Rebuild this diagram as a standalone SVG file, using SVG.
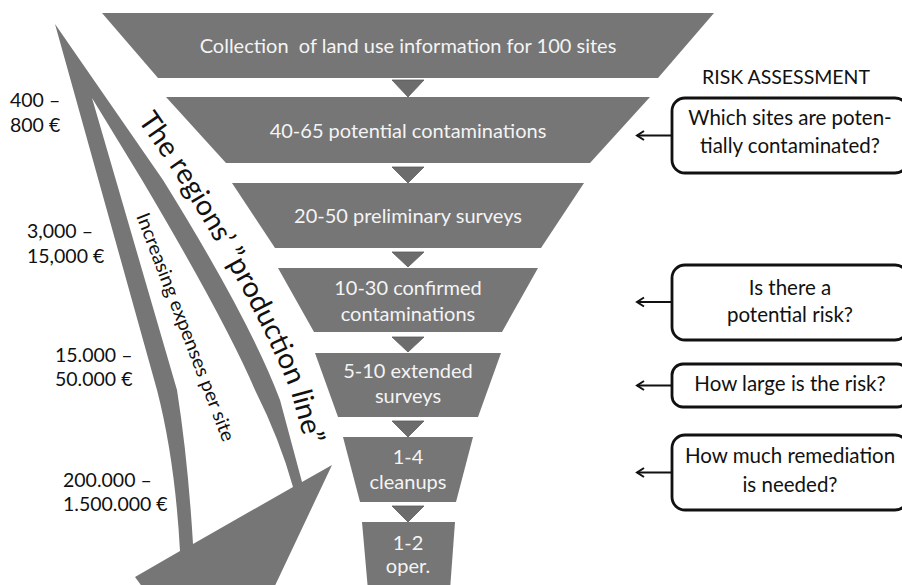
<svg xmlns="http://www.w3.org/2000/svg" width="902" height="585" viewBox="0 0 902 585">
<style>
.stage{fill:#767676}
.st{font-family:Lato,"Liberation Sans",sans-serif;font-size:20px;fill:#f4f4f4;text-anchor:middle}
.lbl{font-family:Lato,"Liberation Sans",sans-serif;font-size:19.5px;fill:#111}
.q{fill:#fff;stroke:#111;stroke-width:2.8}
.qt{font-family:Lato,"Liberation Sans",sans-serif;font-size:20.5px;fill:#111;text-anchor:middle}
.tri{fill:#6c6c6c;stroke:#5c5c5c;stroke-width:0.8}
.conn{stroke:#111;stroke-width:2;fill:none}
.rot{font-family:Lato,"Liberation Sans",sans-serif;fill:#111}
</style>
<defs>
<marker id="ah" viewBox="-9 -6 11 12" refX="0" refY="0" markerWidth="11" markerHeight="12" orient="auto" markerUnits="userSpaceOnUse">
<path d="M-7,-4.5 L0,0 L-7,4.5" fill="none" stroke="#111" stroke-width="2"/>
</marker>
<path id="plPath" d="M65.7,16.6 L174,173 Q261.5,314 292,395.5 L318,492"/>
</defs>

<g id="cost-arrow">
<path fill="#767676" d="M55,24 L163,180 Q250,320 280,400 L302,482 L332,465 L272,592 L146,592 L135,577 L180,551 Q175,460 157,390 Z"/>
<path fill="#fff" d="M92,98 L142,180 Q225,320 255,390 Q280,440 293,487 L193,544 Q188,460 177,390 Z"/>
<text class="rot" font-size="28.5"><textPath href="#plPath" startOffset="126">The regions’ ”production line”</textPath></text>
<text class="rot" font-size="19" transform="translate(136,216) rotate(69)" textLength="243" lengthAdjust="spacingAndGlyphs">Increasing expenses per site</text>
</g>

<g id="cost-labels">
<text class="lbl" x="10" y="107">400 –</text>
<text class="lbl" x="10" y="132">800 €</text>
<text class="lbl" x="27" y="238">3,000 –</text>
<text class="lbl" x="27" y="263">15,000 €</text>
<text class="lbl" x="55" y="362">15.000 –</text>
<text class="lbl" x="55" y="386">50.000 €</text>
<text class="lbl" x="63" y="487">200.000 –</text>
<text class="lbl" x="63" y="511">1.500.000 €</text>
</g>

<g id="stage1"><polygon class="stage" points="102,13 714,13 658,78 158,78"/><text class="st" x="408" y="53" style="white-space:pre">Collection  of land use information for 100 sites</text></g>
<g id="stage2"><polygon class="stage" points="166,97 650,97 590,163 226,163"/><text class="st" x="408" y="138">40-65 potential contaminations</text></g>
<g id="stage3"><polygon class="stage" points="232,183 584,183 541,248 275,248"/><text class="st" x="408" y="223">20-50 preliminary surveys</text></g>
<g id="stage4"><polygon class="stage" points="278,268 538,268 502,332 314,332"/><text class="st" x="408" y="295">10-30 confirmed</text><text class="st" x="408" y="321">contaminations</text></g>
<g id="stage5"><polygon class="stage" points="315,353 501,353 478,417 338,417"/><text class="st" x="408" y="378">5-10 extended</text><text class="st" x="408" y="403">surveys</text></g>
<g id="stage6"><polygon class="stage" points="343,437 473,437 456,502 360,502"/><text class="st" x="408" y="464">1-4</text><text class="st" x="408" y="489">cleanups</text></g>
<g id="stage7"><polygon class="stage" points="362,522 455,522 450,590 368,590"/><text class="st" x="408" y="550">1-2</text><text class="st" x="408" y="573">oper.</text></g>

<g id="risk-title"><text class="lbl" x="786" y="84" font-size="16.5" text-anchor="middle">RISK ASSESSMENT</text></g>

<g id="q1"><rect class="q" x="672" y="98" width="236" height="75" rx="13"/><text class="qt" x="790" y="125">Which sites are poten-</text><text class="qt" x="790" y="153">tially contaminated?</text></g>
<g id="q2"><rect class="q" x="672" y="265" width="236" height="75" rx="13"/><text class="qt" x="790" y="295">Is there a</text><text class="qt" x="790" y="322">potential risk?</text></g>
<g id="q3"><rect class="q" x="672" y="364" width="236" height="43" rx="11"/><text class="qt" x="790" y="391">How large is the risk?</text></g>
<g id="q4"><rect class="q" x="672" y="435" width="236" height="75" rx="13"/><text class="qt" x="790" y="463">How much remediation</text><text class="qt" x="790" y="492">is needed?</text></g>

<g id="connectors">
<polygon class="tri" points="392,80 424,80 408,97"/>
<polygon class="tri" points="392,167 424,167 408,183"/>
<polygon class="tri" points="392,252 424,252 408,267"/>
<polygon class="tri" points="392,337 424,337 408,352"/>
<polygon class="tri" points="392,421 424,421 408,437"/>
<polygon class="tri" points="392,506 424,506 408,522"/>
<line class="conn" x1="672" y1="135.5" x2="637" y2="135.5" marker-end="url(#ah)"/>
<line class="conn" x1="672" y1="302" x2="637" y2="302" marker-end="url(#ah)"/>
<line class="conn" x1="672" y1="385.5" x2="637" y2="385.5" marker-end="url(#ah)"/>
<line class="conn" x1="672" y1="472.5" x2="637" y2="472.5" marker-end="url(#ah)"/>
</g>
</svg>
